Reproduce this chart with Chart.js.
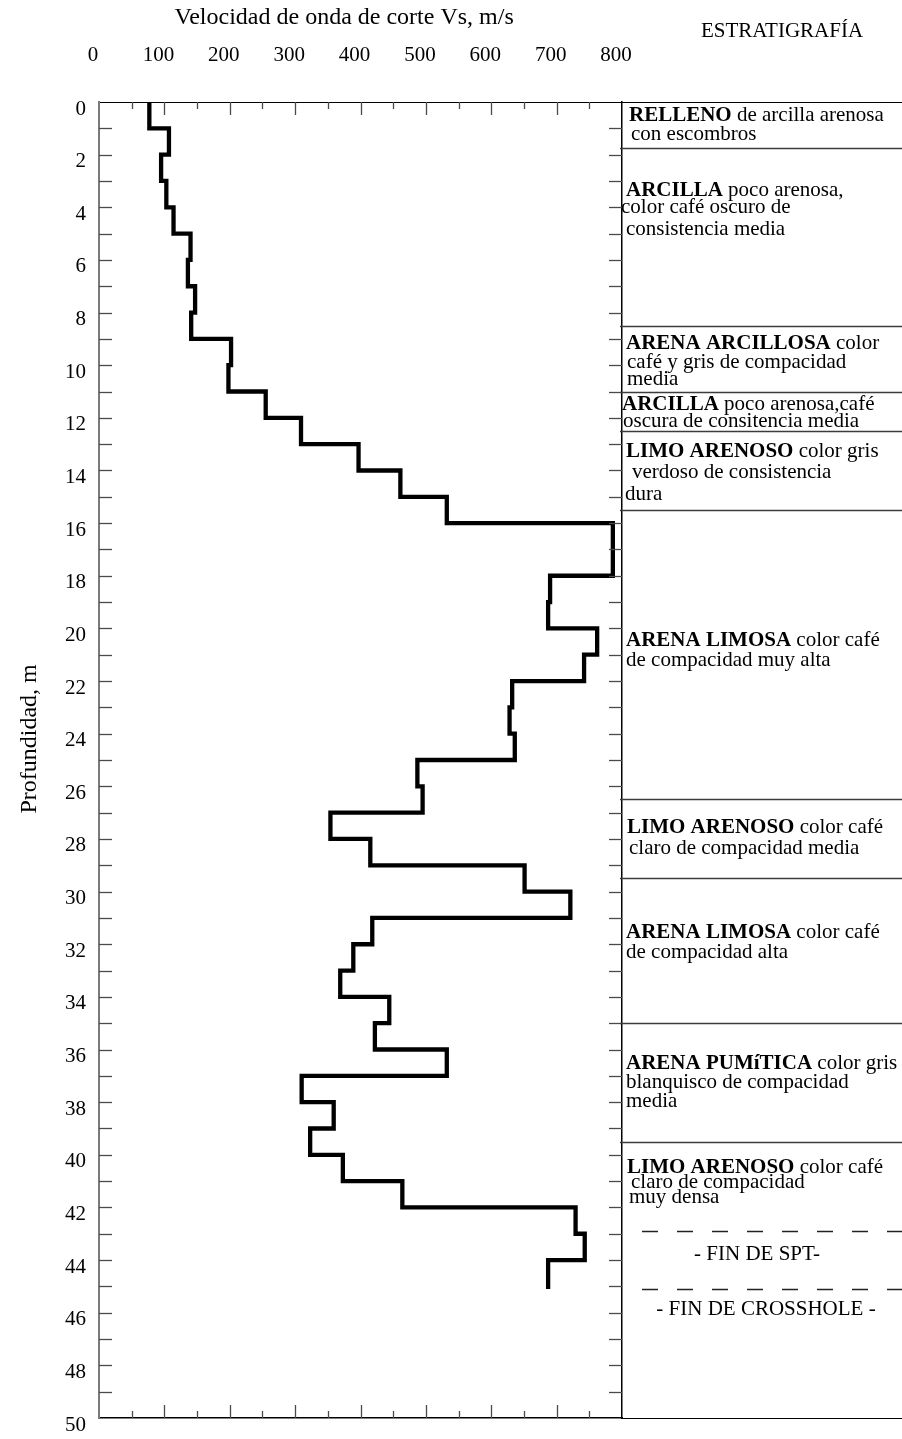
<!DOCTYPE html>
<html>
<head>
<meta charset="utf-8">
<script src="https://cdn.jsdelivr.net/npm/chart.js@4.4.1/dist/chart.umd.min.js"></script>
<style>
html,body{margin:0;padding:0;background:#ffffff;}
canvas{display:block;}
</style>
</head>
<body>
<canvas id="c" width="902" height="1439"></canvas>
<script>
// ---------------- DATA ----------------
// top depth of each 1 m interval (m)
const depthTop = [0,1,2,3,4,5,6,7,8,9,10,11,12,13,14,15,16,17,18,19,20,21,22,23,24,25,26,27,28,29,30,31,32,33,34,35,36,37,38,39,40,41,42,43,44];
// shear-wave velocity in each interval (m/s)
const vsValues = [77,107,95,103,114,140,136,147,141,202,198,255,309,397,461,532,786,786,690,687,762,742,632,628,636,487,495,354,415,651,721,418,389,369,444,422,532,310,359,323,373,464,729,743,687];
const depthEnd = 45.1;

const xTickValues = [0,100,200,300,400,500,600,700,800];
const yTickValues = [0,2,4,6,8,10,12,14,16,18,20,22,24,26,28,30,32,34,36,38,40,42,44,46,48,50];

const xTitle = 'Velocidad de onda de corte Vs, m/s';
const yTitle = 'Profundidad, m';
const stratTitle = 'ESTRATIGRAFÍA';

// stratigraphy boundaries (m)
const strataBounds = [1.75, 8.5, 11, 12.5, 15.5, 26.5, 29.5, 35, 39.5];
const endMarkDepths = [42.9, 45.1];
const endMarkTexts = ['- FIN DE SPT-', '- FIN DE CROSSHOLE -'];

// stratigraphy descriptions: [bold part, normal part] per line
const strataText = [
  [['RELLENO',' de arcilla arenosa'], ['','con escombros']],
  [['ARCILLA',' poco arenosa,'], ['','color café oscuro de'], ['','consistencia media']],
  [['ARENA ARCILLOSA',' color'], ['','café y gris de compacidad'], ['','media']],
  [['ARCILLA',' poco arenosa,café'], ['','oscura de consitencia media']],
  [['LIMO ARENOSO',' color gris'], ['','verdoso de consistencia'], ['','dura']],
  [['ARENA LIMOSA',' color café'], ['','de compacidad muy alta']],
  [['LIMO ARENOSO',' color café'], ['','claro de compacidad media']],
  [['ARENA LIMOSA',' color café'], ['','de compacidad alta']],
  [['ARENA PUMíTICA',' color gris'], ['','blanquisco de compacidad'], ['','media']],
  [['LIMO ARENOSO',' color café'], ['','claro de compacidad'], ['','muy densa']]
];

// ---------------- LAYOUT (text line positions) ----------------
const textBaselineDepths = [
  [0.73, 1.43],
  [3.56, 4.22, 5.04],
  [9.38, 10.11, 10.74],
  [11.69, 12.35],
  [13.49, 14.29, 15.11],
  [20.66, 21.42],
  [27.77, 28.57],
  [31.76, 32.52],
  [36.74, 37.46, 38.18],
  [40.68, 41.27, 41.84]
];
const textDx = [
  [7, 9],
  [4, -1, 4],
  [4, 5, 5],
  [0, 1],
  [4, 10, 3],
  [4, 4],
  [5, 7],
  [4, 4],
  [4, 4, 4],
  [5, 9, 7]
];
const endMarkTextDepths = [44.0, 46.09];

const FONT = '"Liberation Serif", "Times New Roman", serif';

const points = depthTop.map((d, i) => ({x: vsValues[i], y: d}));
points.push({x: vsValues[vsValues.length - 1], y: depthEnd});

function seg(ctx, x1, y1, x2, y2) {
  ctx.beginPath(); ctx.moveTo(x1, y1); ctx.lineTo(x2, y2); ctx.stroke();
}

const profilePlugin = {
  id: 'profileDecor',
  afterDraw(chart) {
    const ctx = chart.ctx;
    const a = chart.chartArea;
    const x = chart.scales.x, y = chart.scales.y;
    const W = chart.width;
    ctx.save();
    // inward tick marks on the four sides
    ctx.lineCap = 'butt';
    ctx.strokeStyle = '#4a4a4a';
    ctx.lineWidth = 1.3;
    for (let v = 50; v < 800; v += 50) {
      const px = Math.round(x.getPixelForValue(v)) + 0.5;
      const len = (v % 100 === 0) ? 13 : 7;
      seg(ctx, px, a.top, px, a.top + len);
      seg(ctx, px, a.bottom, px, a.bottom - len);
    }
    for (let d = 1; d < 50; d++) {
      const py = Math.round(y.getPixelForValue(d)) + 0.5;
      seg(ctx, a.left, py, a.left + 13, py);
      seg(ctx, a.right, py, a.right - 13, py);
    }
    // stratigraphy column frame and boundaries
    ctx.strokeStyle = '#000';
    ctx.lineWidth = 1.2;
    seg(ctx, a.right, Math.round(a.top) + 0.5, W, Math.round(a.top) + 0.5);
    seg(ctx, a.right, Math.round(a.bottom) + 0.5, W, Math.round(a.bottom) + 0.5);
    ctx.strokeStyle = '#3c3c3c';
    ctx.lineWidth = 1.5;
    strataBounds.forEach(d => {
      const py = Math.round(y.getPixelForValue(d)) + 0.5;
      seg(ctx, a.right - 2, py, W, py);
    });
    ctx.setLineDash([16, 19]);
    ctx.lineWidth = 1.3;
    ctx.strokeStyle = '#222';
    endMarkDepths.forEach(d => {
      const py = Math.round(y.getPixelForValue(d)) + 0.5;
      seg(ctx, a.right + 20, py, W, py);
    });
    ctx.setLineDash([]);
    // stratigraphy texts
    ctx.fillStyle = '#000';
    ctx.textBaseline = 'alphabetic';
    ctx.textAlign = 'left';
    strataText.forEach((block, bi) => {
      block.forEach((line, li) => {
        const py = y.getPixelForValue(textBaselineDepths[bi][li]);
        let px = a.right + textDx[bi][li];
        if (line[0]) {
          ctx.font = 'bold 21px ' + FONT;
          ctx.fillText(line[0], px, py);
          px += ctx.measureText(line[0]).width;
        }
        ctx.font = '21px ' + FONT;
        ctx.fillText(line[1], px, py);
      });
    });
    ctx.textAlign = 'center';
    ctx.font = '21px ' + FONT;
    endMarkTexts.forEach((t, i) => {
      const py = y.getPixelForValue(endMarkTextDepths[i]);
      ctx.fillText(t, (a.right + W) / 2 - 5 + i * 9, py);
    });
    // titles
    ctx.textBaseline = 'middle';
    ctx.font = '24px ' + FONT;
    ctx.fillText(xTitle, x.getPixelForValue(375), 18);
    ctx.font = '21px ' + FONT;
    ctx.fillText(stratTitle, (a.right + W) / 2 + 20, 31);
    ctx.translate(30, y.getPixelForValue(24.2));
    ctx.rotate(-Math.PI / 2);
    ctx.font = '24px ' + FONT;
    ctx.fillText(yTitle, 0, 0);
    ctx.restore();
  }
};

function fitVertical(w) {
  return s => { s.width = w; s.paddingTop = 0; s.paddingBottom = 0; };
}

new Chart(document.getElementById('c'), {
  type: 'line',
  data: {
    datasets: [{
      data: points,
      borderColor: '#000',
      borderWidth: 4.3,
      pointRadius: 0,
      stepped: 'after',
      fill: false,
      borderJoinStyle: 'miter',
      borderCapStyle: 'butt'
    }]
  },
  options: {
    responsive: false,
    animation: false,
    devicePixelRatio: 1,
    layout: {padding: 0},
    plugins: {legend: {display: false}, tooltip: {enabled: false}},
    scales: {
      x: {
        type: 'linear', position: 'top', min: 0, max: 800,
        afterBuildTicks: s => { s.ticks = xTickValues.map(v => ({value: v})); },
        ticks: {labelOffset: -6, padding: 34, color: '#000', font: {family: FONT, size: 21}},
        grid: {display: false, drawTicks: false},
        border: {display: true, color: '#000', width: 1},
        afterFit: s => { s.height = 102; }
      },
      xb: {
        type: 'linear', position: 'bottom', min: 0, max: 800,
        ticks: {display: false},
        grid: {display: false, drawTicks: false},
        border: {display: true, color: '#000', width: 1.5},
        afterFit: s => { s.height = 21; }
      },
      y: {
        type: 'linear', position: 'left', reverse: true, min: 0, max: 50,
        afterBuildTicks: s => { s.ticks = yTickValues.map(v => ({value: v})); },
        ticks: {labelOffset: 7, padding: 13, color: '#000', font: {family: FONT, size: 21}},
        grid: {display: false, drawTicks: false},
        border: {display: true, color: '#7a7a7a', width: 2},
        afterFit: fitVertical(99)
      },
      yr: {
        type: 'linear', position: 'right', reverse: true, min: 0, max: 50,
        ticks: {display: false},
        grid: {display: false, drawTicks: false},
        border: {display: true, color: '#000', width: 1.5},
        afterFit: fitVertical(280)
      }
    }
  },
  plugins: [profilePlugin]
});
</script>
</body>
</html>
